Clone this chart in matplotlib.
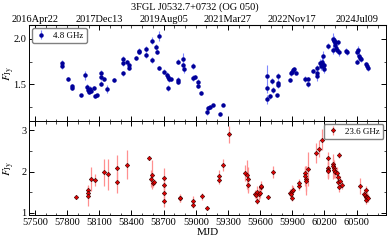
import matplotlib
matplotlib.use("Agg")
import matplotlib.pyplot as plt
from matplotlib.ticker import MultipleLocator

plt.rcParams['font.family'] = ['Liberation Serif', 'DejaVu Serif']
plt.rcParams['mathtext.fontset'] = 'stix'
plt.rcParams['font.size'] = 8

title = "3FGL J0532.7+0732 (OG 050)"
top_ticks = [57500, 58100, 58700, 59300, 59900, 60500]
top_labels = ["2016Apr22", "2017Dec13", "2019Aug05", "2021Mar27", "2022Nov17", "2024Jul09"]

# 4.8 GHz
mjd_48 = [57752, 57752, 57808, 57846, 57846, 57930, 57967, 57985, 57995, 58005, 58012, 58020,
          58051, 58060, 58080, 58117, 58117, 58117, 58145, 58173, 58238, 58322, 58322, 58322,
          58360, 58378, 58378, 58444, 58472, 58472, 58537, 58537, 58593, 58593, 58625, 58635,
          58660, 58660, 58705, 58734, 58740, 58745, 58750, 58770, 58836, 58836, 58836, 58883,
          58883, 58886, 58977, 58977, 58996, 59024, 59024, 59045, 59108, 59117, 59136, 59164,
          59229, 59257, 59668, 59668, 59668, 59696, 59715, 59724, 59761, 59771, 59771, 59771,
          59874, 59892, 59895, 59911, 59916, 59930, 60023, 60042, 60042, 60089, 60126, 60128,
          60132, 60163, 60170, 60175, 60180, 60185, 60188, 60192, 60200, 60229, 60275, 60282,
          60288, 60293, 60298, 60302, 60310, 60318, 60330, 60334, 60400, 60406, 60500, 60506,
          60512, 60518, 60533, 60545, 60590, 60600, 60610]
flux_48 = [1.73, 1.70, 1.56, 1.48, 1.46, 1.38, 1.60, 1.47, 1.44, 1.42, 1.45, 1.43,
           1.46, 1.37, 1.38, 1.63, 1.58, 1.51, 1.56, 1.45, 1.55, 1.78, 1.73, 1.62,
           1.75, 1.71, 1.68, 1.79, 1.87, 1.85, 1.89, 1.82, 1.98, 1.77, 1.91, 1.86,
           2.03, 1.68, 1.64, 1.60, 1.58, 1.46, 1.56, 1.56, 1.75, 1.55, 1.53, 1.78,
           1.71, 1.67, 1.70, 1.57, 1.58, 1.53, 1.48, 1.41, 1.20, 1.24, 1.25, 1.27,
           1.18, 1.28, 1.59, 1.46, 1.34, 1.37, 1.54, 1.44, 1.38, 1.59, 1.52, 1.49,
           1.55, 1.62, 1.64, 1.66, 1.67, 1.63, 1.56, 1.56, 1.50, 1.65, 1.68, 1.63,
           1.59, 1.73, 1.70, 1.75, 1.72, 1.81, 1.70, 1.71, 1.67, 1.92, 2.00, 1.88,
           1.99, 1.97, 1.96, 1.93, 1.90, 1.88, 1.96, 1.85, 1.87, 1.85, 1.85, 1.75,
           1.88, 1.81, 1.79, 1.78, 1.72, 1.70, 1.68]
err_48 = [0.04, 0.03, 0.02, 0.02, 0.02, 0.02, 0.05, 0.03, 0.03, 0.02, 0.03, 0.02,
          0.02, 0.02, 0.02, 0.03, 0.03, 0.03, 0.02, 0.04, 0.02, 0.03, 0.03, 0.03,
          0.02, 0.03, 0.02, 0.02, 0.03, 0.02, 0.03, 0.03, 0.04, 0.03, 0.03, 0.03,
          0.05, 0.02, 0.03, 0.04, 0.03, 0.03, 0.03, 0.02, 0.03, 0.03, 0.02, 0.06,
          0.05, 0.05, 0.03, 0.03, 0.02, 0.03, 0.02, 0.02, 0.03, 0.02, 0.02, 0.02,
          0.02, 0.02, 0.12, 0.05, 0.05, 0.03, 0.03, 0.03, 0.02, 0.04, 0.03, 0.03,
          0.02, 0.03, 0.03, 0.02, 0.02, 0.02, 0.03, 0.02, 0.03, 0.02, 0.03, 0.04,
          0.05, 0.05, 0.04, 0.06, 0.05, 0.06, 0.05, 0.04, 0.05, 0.03, 0.06, 0.05,
          0.04, 0.05, 0.05, 0.04, 0.04, 0.04, 0.03, 0.04, 0.03, 0.03, 0.04, 0.03,
          0.04, 0.04, 0.03, 0.03, 0.03, 0.03, 0.03]

# 23.6 GHz
mjd_236 = [57883, 57995, 57995, 57995, 58023, 58060, 58145, 58182, 58266, 58266, 58360,
           58565, 58585, 58593, 58600, 58615, 58705, 58705, 58705, 58705, 58855, 58855,
           58977, 58977, 59061, 59108, 59220, 59220, 59257, 59313, 59463, 59478, 59485,
           59490, 59550, 59560, 59570, 59575, 59585, 59595, 59605, 59612, 59677, 59724,
           59874, 59885, 59895, 59900, 59902, 59958, 59962, 60014, 60018, 60024, 60032,
           60042, 60117, 60145, 60173, 60229, 60229, 60232, 60236, 60275, 60278, 60285,
           60292, 60300, 60313, 60323, 60330, 60333, 60340, 60345, 60360, 60528, 60572,
           60578, 60585, 60588, 60592, 60598, 60603]
flux_236 = [1.39, 1.55, 1.48, 1.41, 1.82, 1.80, 1.98, 1.93, 2.08, 1.74, 2.16,
            2.32, 1.83, 1.92, 1.73, 1.75, 1.84, 1.67, 1.48, 1.29, 1.37, 1.35,
            1.29, 1.19, 1.40, 1.12, 1.89, 1.80, 2.16, 2.90, 1.96, 1.92, 1.82,
            1.68, 1.45, 1.44, 1.30, 1.50, 1.47, 1.49, 1.63, 1.66, 1.39, 1.99,
            1.48, 1.46, 1.37, 1.52, 1.55, 1.66, 1.72, 1.96, 1.89, 1.83, 1.78,
            2.06, 2.45, 2.55, 2.77, 2.33, 2.08, 2.04, 2.01, 2.18, 2.13, 2.09,
            2.04, 2.00, 1.96, 1.86, 1.74, 1.63, 2.40, 1.78, 1.67, 1.65, 1.47,
            1.43, 1.39, 1.31, 1.55, 1.39, 1.37]
err_236 = [0.05, 0.12, 0.15, 0.25, 0.30, 0.15, 0.33, 0.38, 0.33, 0.25, 0.35,
           0.05, 0.20, 0.35, 0.10, 0.08, 0.25, 0.20, 0.20, 0.15, 0.10, 0.08,
           0.12, 0.08, 0.08, 0.06, 0.15, 0.10, 0.15, 0.20, 0.20, 0.35, 0.30,
           0.20, 0.10, 0.10, 0.08, 0.15, 0.15, 0.12, 0.10, 0.10, 0.05, 0.15,
           0.10, 0.08, 0.08, 0.15, 0.10, 0.10, 0.10, 0.15, 0.25, 0.30, 0.35,
           0.40, 0.25, 0.20, 0.25, 0.15, 0.20, 0.20, 0.20, 0.15, 0.30, 0.20,
           0.20, 0.15, 0.15, 0.15, 0.12, 0.12, 0.08, 0.12, 0.10, 0.20, 0.10,
           0.10, 0.10, 0.10, 0.10, 0.12, 0.10]

fig = plt.figure(figsize=(3.89, 2.43), dpi=100)
ax1 = fig.add_axes([0.0746, 0.502, 0.918, 0.395])
ax2 = fig.add_axes([0.0746, 0.115, 0.918, 0.387], sharex=ax1)

ax1.errorbar(mjd_48, flux_48, yerr=err_48, fmt='o', color='#00009a', ms=2.2,
             ecolor='#8089ff', elinewidth=0.8, capsize=0, label='4.8 GHz', zorder=3)
ax2.errorbar(mjd_236, flux_236, yerr=err_236, fmt='D', mfc='#e00000', mec='#300000',
             mew=0.4, ms=2.3, ecolor='#ff9090', elinewidth=0.9, capsize=0,
             label='23.6 GHz', zorder=3)

ax1.set_xlim(57445, 60775)
ax1.set_ylim(1.10, 2.15)
ax2.set_ylim(0.95, 3.22)

ax1.yaxis.set_major_locator(MultipleLocator(0.5))
ax1.yaxis.set_minor_locator(MultipleLocator(0.25))
ax2.yaxis.set_major_locator(MultipleLocator(1))
ax2.yaxis.set_minor_locator(MultipleLocator(0.5))
ax2.set_xticks(list(range(57500, 60501, 300)))
ax2.xaxis.set_minor_locator(MultipleLocator(100))

for ax in (ax1, ax2):
    ax.tick_params(which='both', direction='in', right=True, labelsize=7.5, pad=2)
    ax.tick_params(which='major', length=3.5, width=0.7)
    ax.tick_params(which='minor', length=1.8, width=0.5)
    for s in ax.spines.values():
        s.set_linewidth(0.7)
ax2.tick_params(which='both', top=True)
ax1.tick_params(which='both', top=False, labelbottom=False)

sec = ax1.secondary_xaxis('top')
sec.set_xticks(top_ticks)
sec.set_xticklabels(top_labels)
sec.xaxis.set_minor_locator(MultipleLocator(100))
sec.tick_params(which='both', direction='in', labelsize=7.5, pad=1)
sec.tick_params(which='major', length=3.5, width=0.7)
sec.tick_params(which='minor', length=1.8, width=0.5)

ax1.set_ylabel(r'$F_{\rm Jy}$', fontsize=8)
ax2.set_ylabel(r'$F_{\rm Jy}$', fontsize=8)
ax1.yaxis.set_label_coords(-0.035, 0.5)
ax2.yaxis.set_label_coords(-0.035, 0.5)
ax2.set_xlabel('MJD', fontsize=8, labelpad=1)

fig.text(0.5, 0.99, title, ha='center', va='top', fontsize=7.5)

ax1.legend(loc='upper left', fontsize=6.5, handlelength=1.2, borderpad=0.4,
           handletextpad=0.8, borderaxespad=0.3, framealpha=1, edgecolor='0.5')
ax2.legend(loc='upper right', fontsize=6.5, handlelength=1.2, borderpad=0.4,
           handletextpad=0.8, borderaxespad=0.3, framealpha=1, edgecolor='0.5')

fig.savefig('out.png', dpi=100)
